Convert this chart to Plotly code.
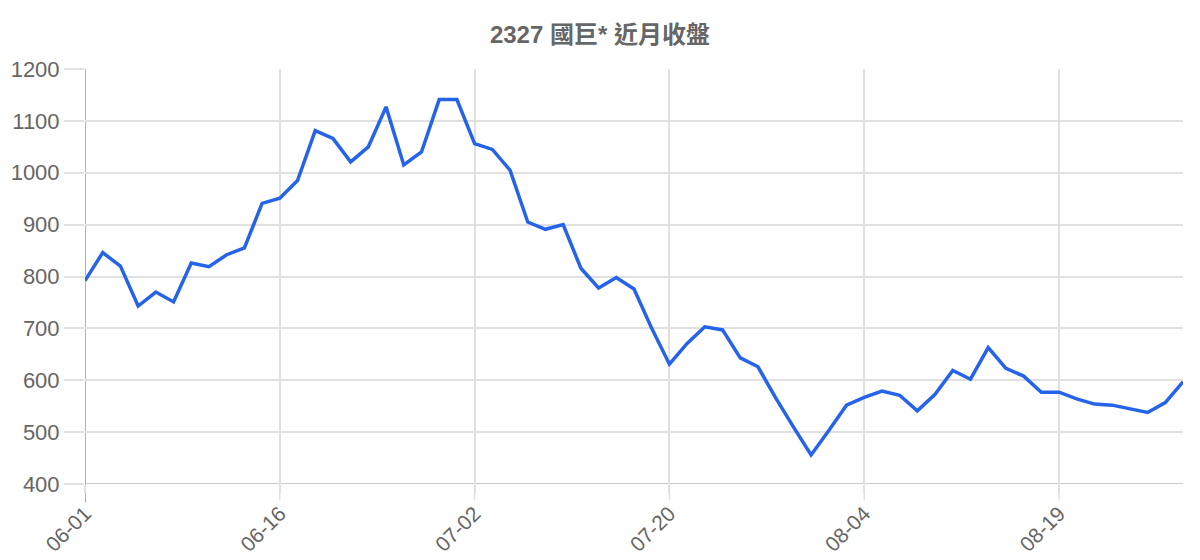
import plotly.graph_objects as go

# Trading days (MM-DD) and closing prices.
dates = [
    '06-01', '06-02', '06-03', '06-04', '06-05', '06-08', '06-09', '06-10',
    '06-11', '06-12', '06-15', '06-16', '06-17', '06-18', '06-22', '06-23',
    '06-24', '06-25', '06-26', '06-29', '06-30', '07-01', '07-02', '07-06',
    '07-07', '07-08', '07-09', '07-10', '07-13', '07-14', '07-15', '07-16',
    '07-17', '07-20', '07-21', '07-22', '07-23', '07-24', '07-27', '07-28',
    '07-29', '07-30', '07-31', '08-03', '08-04', '08-05', '08-06', '08-07',
    '08-10', '08-11', '08-12', '08-13', '08-14', '08-17', '08-18', '08-19',
    '08-20', '08-21', '08-24', '08-25', '08-26', '08-27', '08-28',
]
closes = [
    792, 846, 820, 743, 770, 751, 826, 819, 842, 855,
    941, 951, 985, 1081, 1066, 1021, 1050, 1127, 1015, 1040,
    1141, 1141, 1056, 1045, 1005, 905, 891, 900, 816, 778,
    798, 776, 700, 631, 671, 703, 697, 643, 626, 566,
    510, 456, 503, 552, 567, 579, 571, 541, 573, 619,
    602, 663, 623, 608, 577, 577, 564, 554, 552, 545,
    538, 557, 597,
]
tick_dates = ['06-01', '06-16', '07-02', '07-20', '08-04', '08-19']

title = '2327 國巨* 近月收盤'
grey = '#666666'
grid = '#e0e0e0'

fig = go.Figure()
fig.add_trace(go.Scatter(
    x=dates, y=closes, mode='lines',
    line=dict(color='#2563eb', width=3.5),
    hovertemplate='%{x}<br>%{y}<extra></extra>',
))

# the page has an 8px body margin, so the margins are trimmed to match
fig.update_layout(
    width=1200, height=560,
    paper_bgcolor='white', plot_bgcolor='white',
    margin=dict(l=77, r=25, t=61, b=84),
    font=dict(family='Liberation Sans, Arial, Noto Sans CJK TC', color=grey),
    title=dict(text='<b>' + title + '</b>', x=0.4933, xanchor='center',
               y=0.952, yanchor='middle',
               font=dict(size=24, color=grey,
                         family='Liberation Sans, Noto Sans CJK TC')),
    showlegend=False,
)
fig.update_xaxes(
    type='category', range=[0, len(dates) - 1],
    tickmode='array', tickvals=tick_dates, ticktext=tick_dates,
    tickangle=-45, tickfont=dict(size=21, color=grey),
    showgrid=True, gridcolor=grid, gridwidth=1.5,
    ticks='outside', ticklen=8, tickcolor=grid, tickwidth=1.5,
    showline=False, zeroline=False, automargin=False,
)
fig.update_yaxes(
    range=[400, 1200], dtick=100,
    tickfont=dict(size=22, color=grey),
    showgrid=True, gridcolor=grid, gridwidth=1.5,
    ticks='outside', ticklen=20, tickcolor=grid, tickwidth=1.5,
    showline=False, zeroline=False, automargin=False,
)
# darker baseline at 400, left axis line and grid stubs running below the plot
fig.add_hline(y=400, line=dict(color='#cccccc', width=2), layer='below')
for d in tick_dates[1:]:
    fig.add_shape(type='line', xref='x', yref='paper', x0=d, x1=d,
                  y0=-0.04, y1=0, line=dict(color=grid, width=1.5),
                  layer='below')
fig.add_shape(type='line', xref='x', yref='paper', x0=0, x1=0,
              y0=-0.045, y1=1, line=dict(color='#b0b0b0', width=2),
              layer='below')

fig.write_html('out.html')
